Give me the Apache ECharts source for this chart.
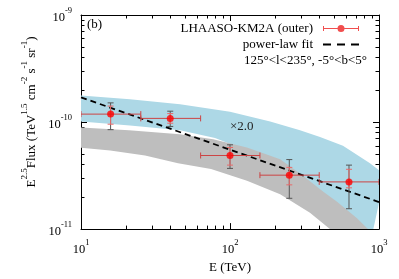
<!DOCTYPE html>
<html><head><meta charset="utf-8">
<script src="https://cdn.jsdelivr.net/npm/echarts@6/dist/echarts.min.js"></script>
<style>html,body{margin:0;padding:0;background:#fff}#c{width:399px;height:279px}</style>
</head><body><div id="c"></div>
<script>
// ---- axis ticks ----
const xTicks = [10, 100, 1000];
const yTicks = [1e-11, 1e-10, 1e-9];
const xMinor = [20, 30, 40, 50, 60, 70, 80, 90, 200, 300, 400, 500, 600, 700, 800, 900];
const yMinor = [2e-11, 3e-11, 4e-11, 5e-11, 6e-11, 7e-11, 8e-11, 9e-11, 2e-10, 3e-10, 4e-10, 5e-10, 6e-10, 7e-10, 8e-10, 9e-10];

// ---- LHAASO-KM2A (outer) points ----
const ptE      = [15.8, 39.7, 100, 250, 629];
const ptF      = [1.186e-10, 1.082e-10, 4.87e-11, 3.19e-11, 2.76e-11];
const ptELo    = [10, 25.2, 63.5, 158.8, 397];
const ptEHi    = [25.2, 63.5, 158.8, 397, 1000];
const ptFLoTot = [8.49e-11, 9.1e-11, 3.69e-11, 1.94e-11, 1.55e-11];
const ptFHiTot = [1.51e-10, 1.263e-10, 6.13e-11, 4.46e-11, 3.96e-11];
const ptFLoSta = [9.55e-11, 9.75e-11, 3.96e-11, 2.59e-11, 2.43e-11];
const ptFHiSta = [1.41e-10, 1.20e-10, 5.79e-11, 3.77e-11, 3.62e-11];

// ---- power-law fit ----
const fitE = [10, 1000];
const fitF = [1.70e-10, 1.79e-11];

// ---- gray model band ----
const grayUpE = [10, 21, 46, 77, 130, 217, 309, 421, 523, 712, 844, 1100];
const grayUpF = [8.9e-11, 8.4e-11, 7.7e-11, 6.9e-11, 5.8e-11, 4.5e-11, 3.15e-11, 2.25e-11, 1.8e-11, 1.26e-11, 1.0e-11, 7.2e-12];
const grayLoE = [10, 15.7, 26.9, 44.8, 74.6, 130, 217, 344, 469, 591];
const grayLoF = [5.76e-11, 5.41e-11, 4.87e-11, 4.12e-11, 3.64e-11, 2.83e-11, 2.12e-11, 1.42e-11, 1.0e-11, 7.5e-12];

// ---- blue model band (x2.0) ----
const blueUpE = [10, 21.3, 46.2, 100, 186, 295, 402, 573, 870, 1100];
const blueUpF = [1.77e-10, 1.63e-10, 1.47e-10, 1.245e-10, 1.01e-10, 8.38e-11, 7.24e-11, 6.0e-11, 4.12e-11, 3.21e-11];
const blueLoE = [10, 21.3, 46.2, 79.3, 116.7, 186, 295, 469, 690, 870];
const blueLoF = [1.01e-10, 9.3e-11, 8.38e-11, 7.09e-11, 5.76e-11, 4.12e-11, 2.72e-11, 1.65e-11, 1.0e-11, 7.2e-12];

const FONT = 'Liberation Serif';
const chart = echarts.init(document.getElementById('c'), null, {renderer: 'canvas'});

const supRich = {
  a: {fontFamily: FONT, fontSize: 12.5, color: '#000', lineHeight: 18, verticalAlign: 'bottom'},
  b: {fontFamily: FONT, fontSize: 8.5, color: '#000', lineHeight: 9, verticalAlign: 'top'}
};
const powLabel = v => '{a|10}{b|' + Math.round(Math.log10(v)) + '}';

function xAx(pos, major) {
  return {
    type: 'log', logBase: 10, min: 10, max: 1000, position: pos,
    axisLine: {show: major, onZero: false, lineStyle: {color: '#000', width: 1}},
    axisTick: {show: true, inside: true, length: major ? 6 : 3.5, customValues: major ? xTicks : xMinor, lineStyle: {color: '#000', width: 1}},
    axisLabel: {show: major && pos === 'bottom', customValues: xTicks, formatter: powLabel, rich: supRich, margin: 9},
    splitLine: {show: false}, minorTick: {show: false},
    name: (major && pos === 'bottom') ? 'E (TeV)' : '', nameLocation: 'middle', nameGap: 27,
    nameTextStyle: {fontFamily: FONT, fontSize: 13, color: '#000'}
  };
}
function yAx(pos, major) {
  return {
    type: 'log', logBase: 10, min: 1e-11, max: 1e-9, position: pos,
    axisLine: {show: major, onZero: false, lineStyle: {color: '#000', width: 1}},
    axisTick: {show: true, inside: true, length: major ? 6 : 3.5, customValues: major ? yTicks : yMinor, lineStyle: {color: '#000', width: 1}},
    axisLabel: {show: major && pos === 'left', customValues: yTicks, formatter: powLabel, rich: supRich, margin: 9},
    splitLine: {show: false}, minorTick: {show: false}
  };
}

function band(uE, uF, lE, lF, color, z) {
  return {
    type: 'custom', coordinateSystem: 'cartesian2d', xAxisIndex: 0, yAxisIndex: 0,
    clip: true, silent: true, z: z,
    data: [[uE[0], uF[0]]],
    renderItem: function (params, api) {
      const pts = [];
      for (let i = 0; i < uE.length; i++) pts.push(api.coord([uE[i], uF[i]]));
      for (let i = lE.length - 1; i >= 0; i--) pts.push(api.coord([lE[i], lF[i]]));
      return {type: 'polygon', shape: {points: pts}, style: {fill: color}};
    }
  };
}

const errData = ptE.map((e, i) => [e, ptF[i], ptELo[i], ptEHi[i], ptFLoTot[i], ptFHiTot[i], ptFLoSta[i], ptFHiSta[i]]);

const option = {
  animation: false,
  backgroundColor: '#fff',
  grid: {left: 81, top: 15, right: 20, bottom: 43, containLabel: false},
  xAxis: [xAx('bottom', true), xAx('bottom', false), xAx('top', true), xAx('top', false)],
  yAxis: [yAx('left', true), yAx('left', false), yAx('right', true), yAx('right', false)],
  legend: {
    orient: 'vertical', right: 35, top: 17, align: 'right', itemGap: 3,
    itemWidth: 36, itemHeight: 7, symbolKeepAspect: true,
    textStyle: {fontFamily: FONT, fontSize: 13, color: '#000', padding: [0, 5, 0, 0]},
    data: [
      {name: 'LHAASO-KM2A (outer)', icon: 'path://M0,3H14.5V4H0Z M21.5,3H36V4H21.5Z M0,1H1V6H0Z M35,1H36V6H35Z M21.5,3.5A3.5,3.5 0 1 1 14.5,3.5A3.5,3.5 0 1 1 21.5,3.5Z', itemStyle: {color: '#ee2222'}},
      {name: 'power-law fit', icon: 'path://M0,0H8V2H0Z M14,0H22V2H14Z M28,0H36V2H28Z', itemStyle: {color: '#000'}}
    ]
  },
  graphic: [
    {type: 'text', x: 87, y: 25, style: {text: '(b)', font: '13px "Liberation Serif"', fill: '#000', verticalAlign: 'middle'}},
    {type: 'text', x: 230, y: 127, z: 10, style: {text: '×2.0', font: '13px "Liberation Serif"', fill: '#222', verticalAlign: 'middle'}},
    {type: 'text', x: 367, y: 61, style: {text: '125°<l<235°, -5°<b<5°', font: '13px "Liberation Serif"', fill: '#000', align: 'right', verticalAlign: 'middle'}},
    {type: 'text', x: 29, y: 112, rotation: Math.PI / 2, style: {
      text: '{a|E}{b|2.5}{a|Flux (TeV}{b|1.5}{a| cm}{b|-2}{a| s}{b|-1}{a| sr}{b|-1}{a|)}',
      align: 'center', verticalAlign: 'middle',
      rich: {
        a: {fontFamily: FONT, fontSize: 13, fill: '#000', lineHeight: 18, verticalAlign: 'bottom'},
        b: {fontFamily: FONT, fontSize: 9, fill: '#000', lineHeight: 9, verticalAlign: 'top'}
      }
    }}
  ],
  series: [
    band(blueUpE, blueUpF, blueLoE, blueLoF, '#add8e6', 1),
    band(grayUpE, grayUpF, grayLoE, grayLoF, '#bebebe', 2),
    {
      name: 'power-law fit', type: 'line', xAxisIndex: 0, yAxisIndex: 0, z: 3,
      data: fitE.map((e, i) => [e, fitF[i]]), symbol: 'none', silent: true,
      itemStyle: {color: '#000'},
      lineStyle: {color: '#000', width: 1.8, type: [6, 4]}
    },
    {
      type: 'custom', xAxisIndex: 0, yAxisIndex: 0, z: 4, clip: true, silent: true,
      data: errData, encode: {x: 0, y: 1},
      renderItem: function (params, api) {
        const c = api.coord([api.value(0), api.value(1)]);
        const xl = api.coord([api.value(2), api.value(1)])[0];
        const xr = api.coord([api.value(3), api.value(1)])[0];
        const yTl = api.coord([api.value(0), api.value(4)])[1];
        const yTh = api.coord([api.value(0), api.value(5)])[1];
        const ySl = api.coord([api.value(0), api.value(6)])[1];
        const ySh = api.coord([api.value(0), api.value(7)])[1];
        const ln = (x1, y1, x2, y2, col) => ({type: 'line', shape: {x1, y1, x2, y2}, style: {stroke: col, lineWidth: 1}});
        const gc = '#555555', hc = '#cc4444', sc = '#e86a6a';
        return {type: 'group', children: [
          ln(c[0], yTl, c[0], yTh, gc), ln(c[0] - 3, yTl, c[0] + 3, yTl, gc), ln(c[0] - 3, yTh, c[0] + 3, yTh, gc),
          ln(xl, c[1], xr, c[1], hc), ln(xl, c[1] - 3, xl, c[1] + 3, hc), ln(xr, c[1] - 3, xr, c[1] + 3, hc),
          ln(c[0], ySl, c[0], ySh, sc), ln(c[0] - 3, ySl, c[0] + 3, ySl, sc), ln(c[0] - 3, ySh, c[0] + 3, ySh, sc)
        ]};
      }
    },
    {
      name: 'LHAASO-KM2A (outer)', type: 'scatter', xAxisIndex: 0, yAxisIndex: 0, z: 5,
      data: ptE.map((e, i) => [e, ptF[i]]), symbol: 'circle', symbolSize: 7,
      itemStyle: {color: '#ff0000'}, silent: true
    }
  ]
};
chart.setOption(option);
</script></body></html>
